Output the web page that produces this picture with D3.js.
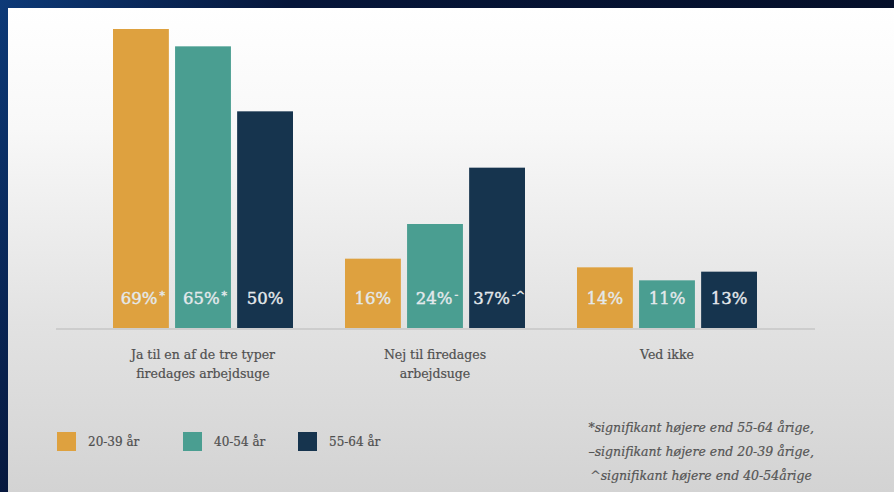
<!DOCTYPE html>
<html>
<head>
<meta charset="utf-8">
<script src="https://cdn.jsdelivr.net/npm/d3@7"></script>
<style>
  html, body { margin: 0; padding: 0; background: #06122e; }
  svg { display: block; }
</style>
</head>
<body>
<div id="chart"></div>
<script>
const categories = ["Ja til en af de tre typer|firedages arbejdsuge", "Nej til firedages|arbejdsuge", "Ved ikke"];
const series = ["20-39 år", "40-54 år", "55-64 år"];
const colors = ["#dea13f", "#4a9e91", "#16344e"];
// values per series, in category order
const values = [
  [69, 16, 14],
  [65, 24, 11],
  [50, 37, 13]
];
// significance marks after each value
const marks = [
  ["*", "", ""],
  ["*", "-", ""],
  ["", "-^", ""]
];
const footnotes = [
  "*signifikant højere end 55-64 årige,",
  "\u2013signifikant højere end 20-39 årige,",
  "^signifikant højere end 40-54årige"
];

const width = 894;
const height = 492;

const svg = d3.select("#chart")
  .append("svg")
  .attr("width", width)
  .attr("height", height);

const defs = svg.append("defs");
const bg = defs.append("linearGradient").attr("id", "bg").attr("x1", 0).attr("y1", 0).attr("x2", 1).attr("y2", 0.3);
bg.append("stop").attr("offset", "0%").attr("stop-color", "#0d3a78");
bg.append("stop").attr("offset", "30%").attr("stop-color", "#06163a");
bg.append("stop").attr("offset", "100%").attr("stop-color", "#050f28");

const slide = defs.append("linearGradient").attr("id", "slide").attr("x1", 0).attr("y1", 0).attr("x2", 0).attr("y2", 1);
slide.append("stop").attr("offset", "0%").attr("stop-color", "#ffffff");
slide.append("stop").attr("offset", "25%").attr("stop-color", "#f8f8f8");
slide.append("stop").attr("offset", "65%").attr("stop-color", "#e2e2e2");
slide.append("stop").attr("offset", "100%").attr("stop-color", "#d3d3d3");

svg.append("rect").attr("width", width).attr("height", height).attr("fill", "url(#bg)");
svg.append("rect").attr("x", 8).attr("y", 8).attr("width", width - 8).attr("height", height - 8).attr("fill", "url(#slide)");

// scales
const x0 = d3.scaleBand()
  .domain(categories)
  .range([87, 783]);

const x1 = d3.scaleBand()
  .domain(series)
  .range([26, 206])
  .paddingInner(0.1);

const yScale = d3.scaleLinear()
  .domain([0, 69])
  .range([328, 29]);

// baseline
svg.append("line")
  .attr("x1", 56).attr("x2", 815)
  .attr("y1", yScale(0) + 1).attr("y2", yScale(0) + 1)
  .attr("stroke", "#c6c6c6")
  .attr("stroke-width", 1.5);

const rows = [];
series.forEach((s, i) => {
  categories.forEach((c, j) => {
    rows.push({ series: s, cat: c, value: values[i][j], mark: marks[i][j], color: colors[i] });
  });
});

const groups = svg.selectAll(".group")
  .data(categories)
  .enter()
  .append("g")
  .attr("class", "group")
  .attr("transform", d => `translate(${x0(d)},0)`);

groups.selectAll("rect")
  .data(c => rows.filter(r => r.cat === c))
  .enter()
  .append("rect")
  .attr("x", d => x1(d.series))
  .attr("y", d => yScale(d.value))
  .attr("width", x1.bandwidth())
  .attr("height", d => yScale(0) - yScale(d.value))
  .attr("fill", d => d.color);

const labels = groups.selectAll(".val")
  .data(c => rows.filter(r => r.cat === c))
  .enter()
  .append("text")
  .attr("class", "val")
  .attr("x", d => x1(d.series) + x1.bandwidth() / 2 + (d.mark ? 2 : 0))
  .attr("y", 304)
  .attr("text-anchor", "middle")
  .attr("font-family", "DejaVu Serif")
  .attr("font-size", 16.5)
  .attr("fill", "#e4e9ec")
  .attr("stroke", "#e4e9ec")
  .attr("stroke-width", 0.4);

labels.append("tspan").text(d => d.value + "%");
labels.append("tspan")
  .attr("font-size", 11)
  .attr("dx", 2)
  .attr("dy", -5)
  .text(d => d.mark);

// category labels
groups.each(function(c) {
  const lines = c.split("|");
  d3.select(this).selectAll(".cat")
    .data(lines)
    .enter()
    .append("text")
    .attr("class", "cat")
    .attr("x", x0.bandwidth() / 2)
    .attr("y", (d, i) => 359 + i * 19)
    .attr("text-anchor", "middle")
    .attr("font-family", "DejaVu Serif")
    .attr("font-size", 12.5)
    .attr("fill", "#505050")
    .attr("stroke", "#505050")
    .attr("stroke-width", 0.2)
    .text(d => d);
});

// legend
const legendX = [57, 183, 298];
const legend = svg.selectAll(".legend")
  .data(series)
  .enter()
  .append("g")
  .attr("class", "legend")
  .attr("transform", (d, i) => `translate(${legendX[i]},432)`);

legend.append("rect")
  .attr("width", 19)
  .attr("height", 19)
  .attr("fill", (d, i) => colors[i]);

legend.append("text")
  .attr("x", 31)
  .attr("y", 14)
  .attr("font-family", "DejaVu Serif")
  .attr("font-size", 12)
  .attr("fill", "#4f4f4f")
  .attr("stroke", "#4f4f4f")
  .attr("stroke-width", 0.2)
  .text(d => d);

// footnotes
svg.selectAll(".note")
  .data(footnotes)
  .enter()
  .append("text")
  .attr("class", "note")
  .attr("x", (d, i) => i === 2 ? 812 : 814)
  .attr("y", (d, i) => 432 + i * 24)
  .attr("text-anchor", "end")
  .attr("font-family", "DejaVu Serif")
  .attr("font-style", "italic")
  .attr("font-size", 12.5)
  .attr("fill", "#555")
  .attr("stroke", "#555")
  .attr("stroke-width", 0.2)
  .text(d => d);
</script>
</body>
</html>
